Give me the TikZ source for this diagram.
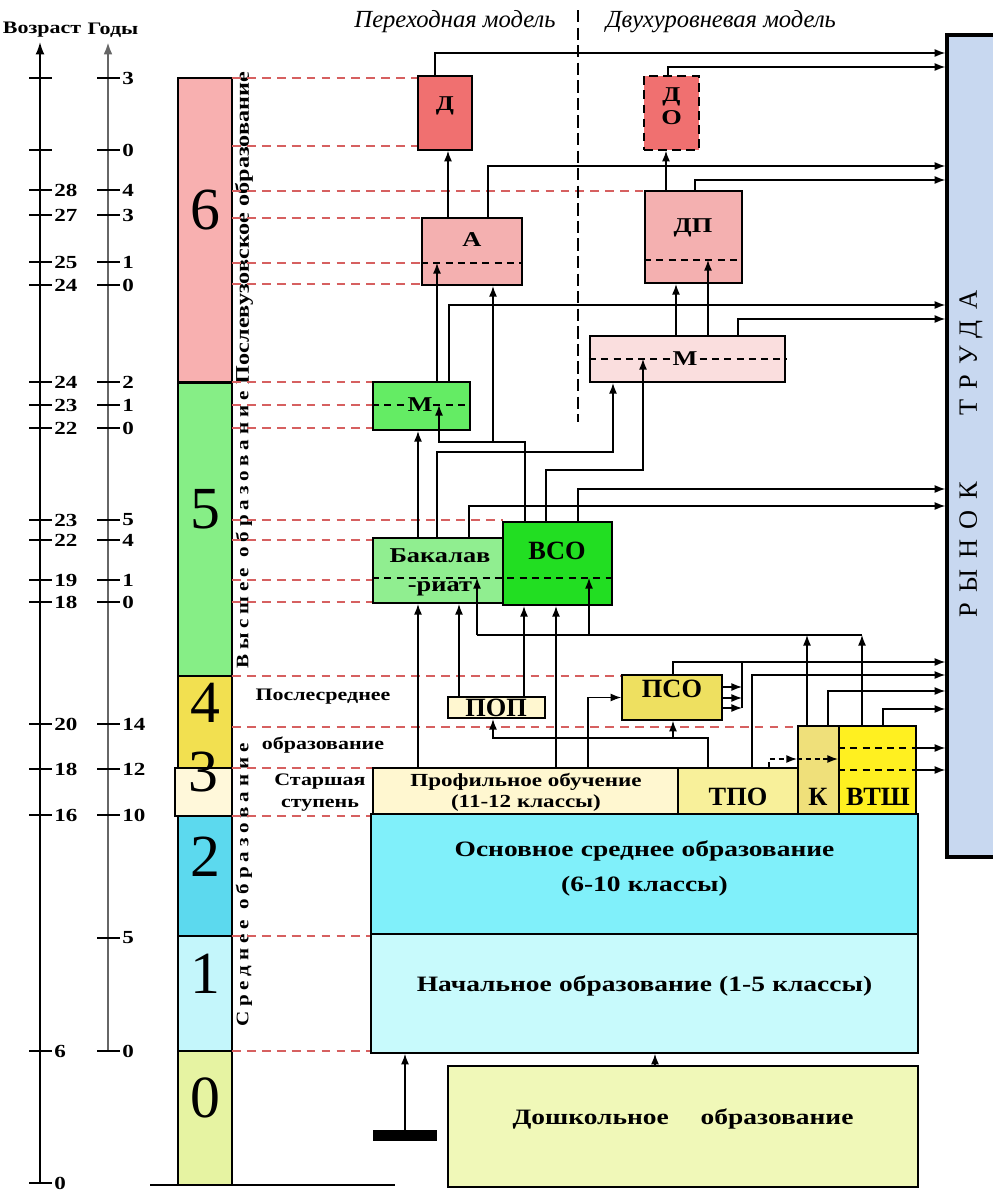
\documentclass[tikz,border=0pt]{standalone}
\usepackage{fontspec}
\setmainfont{Liberation Serif}
\newfontfamily\wide[FakeStretch=1.25]{Liberation Serif}
\newfontfamily\widesp[FakeStretch=1.2,LetterSpace=28]{Liberation Serif}
\newfontfamily\marketfont[LetterSpace=40]{Liberation Serif}
\usetikzlibrary{arrows.meta,calc,fit,positioning}

\definecolor{guidered}{RGB}{214,96,96}
\definecolor{csix}{RGB}{248,176,176}
\definecolor{cfive}{RGB}{134,238,134}
\definecolor{cfour}{RGB}{242,224,80}
\definecolor{cthree}{RGB}{255,248,218}
\definecolor{ctwo}{RGB}{92,217,238}
\definecolor{cone}{RGB}{196,246,251}
\definecolor{czero}{RGB}{230,243,162}
\definecolor{drred}{RGB}{240,112,112}
\definecolor{aspink}{RGB}{244,176,176}
\definecolor{mpink}{RGB}{250,222,222}
\definecolor{mgreen}{RGB}{100,236,100}
\definecolor{bakgreen}{RGB}{144,238,144}
\definecolor{vsogreen}{RGB}{34,222,34}
\definecolor{cream}{RGB}{255,247,208}
\definecolor{psoyel}{RGB}{238,224,96}
\definecolor{tpoyel}{RGB}{248,240,154}
\definecolor{kyel}{RGB}{239,224,122}
\definecolor{vtshyel}{RGB}{255,240,32}
\definecolor{osncyan}{RGB}{128,240,250}
\definecolor{nachcyan}{RGB}{200,250,252}
\definecolor{doshyel}{RGB}{240,248,184}
\definecolor{market}{RGB}{200,216,240}

\begin{document}
\begin{tikzpicture}[x=0.02cm,y=-0.02cm,>=Latex,
  box/.style={draw,line width=1.2pt,inner sep=0pt},
  colbox/.style={draw,line width=0.6pt,inner sep=0pt,font=\fontsize{34}{34}\selectfont},
  arr/.style={-{Latex[length=6pt,width=4.5pt]},line width=0.7pt},
  link/.style={line width=0.7pt},
  guide/.style={draw=guidered,line width=0.6pt,dash pattern=on 5pt off 3.5pt},
  inner/.style={line width=0.7pt,dash pattern=on 4pt off 3pt},
  lbl/.style={font=\wide\bfseries\fontsize{12}{13}\selectfont,align=center,inner sep=1pt},
  small/.style={lbl,font=\wide\bfseries\fontsize{10}{11}\selectfont},
  big/.style={font=\bfseries\fontsize{15}{16}\selectfont,inner sep=1pt},
  tick/.style={right,inner sep=1pt,font=\wide\bfseries\fontsize{10.5}{11}\selectfont},
  side/.style={rotate=90,font=\widesp\bfseries\fontsize{10}{11}\selectfont,inner sep=0pt},
  head/.style={font=\itshape\fontsize{14}{15}\selectfont,inner sep=1pt}]
  \useasboundingbox (0,0) rectangle (993,1191);

  % Axes: age and years
  \node[font=\wide\bfseries\fontsize{10}{11}\selectfont] (agehead) at (42,30) {Возраст};
  \node[font=\wide\bfseries\fontsize{10}{11}\selectfont] (yearhead) at (113,30) {Годы};
  \draw[-{Latex[length=7pt,width=5pt]},line width=0.9pt] (40,1183) -- (40,42);
  \draw[-{Latex[length=7pt,width=5pt]},line width=1.3pt,gray!80!black] (108,1051) -- (108,42);
  \foreach \y/\t in {78/,150/,190/28,215/27,262/25,285/24,382/24,405/23,428/22,520/23,540/22,580/19,602/18,724/20,769/18,815/16,1051/6,1183/0}
    {\draw[line width=0.8pt] (29,\y) -- (52,\y) node[tick] {\t};}
  \foreach \y/\t in {78/3,150/0,190/4,215/3,262/1,285/0,382/2,405/1,428/0,520/5,540/4,580/1,602/0,724/14,769/12,815/10,938/5,1051/0}
    {\draw[line width=0.8pt] (97,\y) -- (120,\y) node[tick] {\t};}

  % Level column
  \node[colbox,fill=csix,fit={(178,78)(232,382)}] (col6) {6};
  \node[colbox,fill=cfive,fit={(178,382)(232,676)}] (col5) {5};
  \node[colbox,fill=cfour,fit={(178,676)(232,768)}] (col4) {4};
  \node[colbox,fill=cthree,line width=1.5pt,fit={(175,768)(232,816)}] (col3) {3};
  \node[colbox,fill=ctwo,fit={(178,816)(232,936)}] (col2) {2};
  \node[colbox,fill=cone,fit={(178,936)(232,1051)}] (col1) {1};
  \node[colbox,fill=czero,fit={(178,1051)(232,1185)}] (col0) {0};
  \draw[line width=1.5pt] (col6.south west) -- (col6.south east);
  \draw[line width=0.8pt] (150,1185) -- (395,1185);
  \node[side,font=\wide\bfseries\fontsize{11}{12}\selectfont] (postgrad) at (244,228) {Послевузовское образование};
  \node[side] (higher) at (244,530) {Высшее образование};
  \node[side] (secondary) at (244,885) {Среднее образование};

  % Dashed guide lines
  \foreach \y/\xe in {78/420,146/420,191/643,218/422,263/422,284/422,382/373,405/373,428/373,520/503,540/373,580/373,602/373,676/623,727/798,768/373,816/373,936/373,1051/373}
    {\draw[guide] (232,\y) -- (\xe,\y);}
  \draw[line width=0.8pt,dash pattern=on 7pt off 3pt] (578,10) -- (578,422);

  % Headings
  \node[head] (trans) at (455,22) {Переходная модель};
  \node[head] (twolev) at (721,22) {Двухуровневая модель};
  \node[small] (postsec1) at (323,697) {Послесреднее};
  \node[small] (postsec2) at (323,745) {образование};
  \node[small] (senior1) at (320,782) {Старшая};
  \node[small] (senior2) at (320,805) {ступень};

  % Labour market
  \node[draw,line width=2pt,fill=market,inner sep=0pt,fit={(947,35)(1012,857)}] (market) {};
  \node[rotate=90,font=\marketfont\fontsize{15}{16}\selectfont] (mtext) at (971,454) {РЫНОК\hspace{28pt} ТРУДА};

  % Postgraduate boxes
  \node[box,fill=drred,fit={(420,78)(470,148)},lbl] (D) {Д};
  \node[box,fill=drred,dashed,dash pattern=on 5pt off 3pt,fit={(646,78)(697,148)},lbl] (DO) {Д\\О};
  \node[box,fill=aspink,fit={(422,218)(522,285)}] (A) {};
  \node[lbl] (At) at (472,240) {А};
  \node[box,fill=aspink,fit={(645,191)(742,283)}] (DP) {};
  \node[lbl] (DPt) at (693,228) {ДП};
  \node[box,fill=mpink,fit={(590,336)(785,382)}] (Mp) {};
  \coordinate (Amid) at (A.west |- 0,263);
  \coordinate (DPmid) at (DP.west |- 0,260);
  \coordinate (Mpmid) at (Mp.west |- 0,359);
  \draw[inner] (Amid) -- (A.east |- Amid);
  \draw[inner] (DPmid) -- (DP.east |- DPmid);
  \draw[inner] (Mpmid) -- (Mp.east |- Mpmid);
  \node[lbl,fill=mpink,inner sep=0pt] (Mpt) at (685,359) {М};

  % Higher education boxes
  \node[box,fill=mgreen,fit={(373,382)(470,430)}] (Mg) {};
  \coordinate (Mgmid) at (Mg.west |- 0,405);
  \draw[inner] (Mgmid) -- (Mg.east |- Mgmid);
  \node[lbl,fill=mgreen,inner sep=0pt] (Mgt) at (420,405) {М};
  \node[box,fill=bakgreen,fit={(373,538)(504,603)}] (Bak) {};
  \node[box,fill=vsogreen,fit={(503,522)(612,605)}] (BCO) {};
  \coordinate (Bakmid) at (Bak.west |- 0,578);
  \coordinate (BCOmid) at (BCO.west |- 0,578);
  \draw[inner] (Bakmid) -- (BCO.east |- Bakmid);
  \node[lbl] (Bakt1) at (440,556) {Бакалав};
  \node[lbl] (Bakt2) at (440,589) {-риат};
  \node[big] (BCOt) at (557,551) {ВСО};

  % Post-secondary and upper secondary
  \node[box,fill=cream,fit={(448,697)(545,718)}] (POP) {};
  \node[big] (POPt) at (496,708) {ПОП};
  \node[box,fill=psoyel,fit={(624,677)(720,718)},big] (PSO) {ПСО};
  \node[box,fill=cream,fit={(373,768)(678,816)}] (Prof) {};
  \node[lbl,font=\wide\bfseries\fontsize{10.5}{12}\selectfont] (Proft) at (526,792) {Профильное обучение\\(11-12 классы)};
  \node[box,fill=tpoyel,fit={(678,768)(798,816)}] (TPO) {};
  \node[big] (TPOt) at (738,797) {ТПО};
  \node[box,fill=kyel,fit={(798,726)(839,816)}] (K) {};
  \node[big] (Kt) at (818,797) {К};
  \node[box,fill=vtshyel,fit={(839,726)(916,816)}] (VTSH) {};
  \node[big] (VTSHt) at (878,797) {ВТШ};
  \draw[inner] (VTSH.west |- 0,748) -- (VTSH.east |- 0,748);
  \draw[inner] (VTSH.west |- 0,770) -- (VTSH.east |- 0,770);

  % Basic, primary, preschool
  \node[box,fill=osncyan,fit={(373,816)(916,936)},lbl,font=\wide\bfseries\fontsize{12.5}{24}\selectfont] (Osn) {Основное среднее образование\\[-4pt](6-10 классы)};
  \node[box,fill=nachcyan,fit={(373,936)(916,1051)},lbl,font=\wide\bfseries\fontsize{12.5}{14}\selectfont] (Nach) {Начальное образование (1-5 классы)};
  \node[box,fill=doshyel,fit={(450,1068)(916,1185)},lbl,font=\wide\bfseries\fontsize{12.5}{14}\selectfont] (Dosh) {Дошкольное\hspace{14pt} образование};
  \node[fill=black,inner sep=0pt,fit={(373,1130)(437,1141)}] (bar) {};
  \draw[arr] (bar.north) -- (Nach.south -| bar.north);
  \draw[arr] (Dosh.north -| 655,0) -- (Nach.south -| 655,0);

  % Links in the upper part
  \draw[arr] (D.north -| 435,0) |- (market.west |- 0,53);
  \draw[arr] (DO.north -| 668,0) |- (market.west |- 0,67);
  \draw[arr] (A.north -| 448,0) -- (D.south -| 448,0);
  \draw[arr] (A.north -| 488,0) |- (market.west |- 0,166);
  \draw[arr] (DP.north -| 666,0) -- (DO.south -| 666,0);
  \draw[arr] (DP.north -| 695,0) |- (market.west |- 0,180);
  \draw[arr] (Mg.north -| 437,0) -- (437,0 |- Amid);
  \draw[arr] (Mg.north -| 449,0) |- (market.west |- 0,305);
  \draw[arr] (Mp.north -| 676,0) -- (DP.south -| 676,0);
  \draw[arr] (Mp.north -| 708,0) -- (708,0 |- DPmid);
  \draw[arr] (Mp.north -| 738,0) |- (market.west |- 0,319);
  \coordinate (j1) at (493,442);
  \draw[arr] (BCO.north -| 525,0) |- (439,442) -- (439,0 |- Mgmid);
  \draw[arr] (j1) -- (A.south -| j1);
  \draw[arr] (Bak.north -| 418,0) -- (Mg.south -| 418,0);
  \draw[arr] (Bak.north -| 437,0) |- (613,452) -- (Mp.south -| 613,0);
  \draw[arr] (BCO.north -| 546,0) |- (643,470) -- (643,0 |- Mpmid);
  \draw[arr] (BCO.north -| 578,0) |- (market.west |- 0,489);
  \draw[arr] (Bak.north -| 469,0) |- (market.west |- 0,506);

  % Links in the lower part
  \draw[arr] (Prof.north -| 418,0) -- (Bak.south -| 418,0);
  \draw[arr] (POP.north -| 459,0) -- (Bak.south -| 459,0);
  \draw[arr] (POP.north -| 524,0) -- (BCO.south -| 524,0);
  \draw[arr] (Prof.north -| 556,0) -- (BCO.south -| 556,0);
  \draw[arr] (Prof.north -| 588,0) |- (PSO.west);
  \coordinate (j2) at (862,635);
  \draw[link] (j2) -- (477,635);
  \draw[arr] (K.north -| 807,0) -- (807,635);
  \draw[arr] (VTSH.north -| j2) -- (j2);
  \draw[arr] (477,635) -- (477,0 |- Bakmid);
  \draw[arr] (589,635) -- (589,0 |- BCOmid);
  \draw[arr] (TPO.north -| 708,0) |- (493,738) -- (POP.south -| 493,0);
  \draw[arr] (673,738) -- (PSO.south -| 673,0);
  \draw[arr] (PSO.north -| 673,0) |- (market.west |- 0,662);
  \draw[link] (742,662) -- (742,708);
  \foreach \y in {687,698,708}
    {\draw[arr] (PSO.east |- 0,\y) -- (742,\y);}
  \draw[arr] (TPO.north -| 752,0) |- (market.west |- 0,675);
  \draw[arr] (K.north -| 828,0) |- (market.west |- 0,691);
  \draw[arr] (VTSH.north -| 883,0) |- (market.west |- 0,709);
  \draw[arr] (VTSH.east |- 0,748) -- (market.west |- 0,748);
  \draw[arr] (VTSH.east |- 0,770) -- (market.west |- 0,770);
  \draw[arr,dash pattern=on 3pt off 2pt] (TPO.north -| 769,0) |- (K.west |- 0,759);
  \draw[arr,dash pattern=on 3pt off 2pt] (K.west |- 0,759) -- (VTSH.west |- 0,759);
\end{tikzpicture}
\end{document}
